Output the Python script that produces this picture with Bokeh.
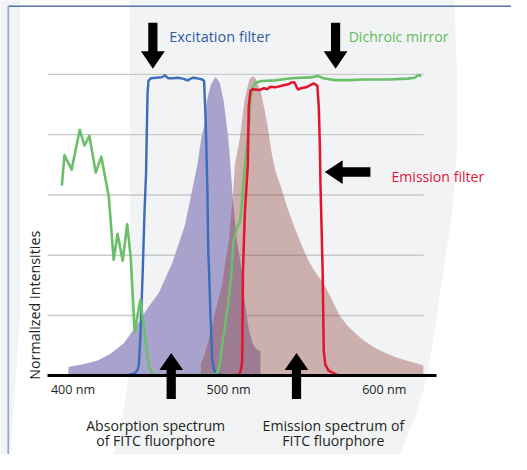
import math
from bokeh.plotting import figure
from bokeh.models import Range1d, LinearAxis, FixedTicker, Label
from bokeh.embed import file_html
from bokeh.resources import INLINE

# ---------------- data (wavelength in nm, normalized intensity) ----------------
abs_nm = [397.0, 397.0, 406.4, 415.7, 423.8, 432.5, 440.6, 448.1, 455.0, 463.7, 471.8, 476.1,
          479.9, 482.4, 484.2, 486.1, 488.6, 491.5, 494.2, 496.7, 499.8, 501.1, 502.9, 505.4,
          508.5, 510.4, 512.9, 515.4, 517.9, 520.4, 520.4]
abs_int = [0, 0.029, 0.038, 0.051, 0.072, 0.107, 0.165, 0.226, 0.274, 0.373, 0.498, 0.604,
           0.700, 0.787, 0.829, 0.915, 0.966, 0.991, 0.973, 0.915, 0.787, 0.700, 0.572, 0.444,
           0.348, 0.242, 0.155, 0.107, 0.088, 0.082, 0]

em_nm = [482.1, 482.1, 484.2, 487.4, 491.7, 495.8, 497.9, 500.0, 501.7, 503.1, 504.0, 507.1,
         510.2, 513.3, 515.4, 517.3, 520.6, 524.7, 527.9, 530.3, 533.0, 537.2, 541.6, 546.5,
         551.5, 555.9, 560.3, 565.2, 571.5, 576.5, 581.9, 587.7, 594.3, 601.4, 608.9, 616.3,
         623.2, 625.1, 625.1]
em_int = [0, 0.040, 0.066, 0.123, 0.220, 0.301, 0.380, 0.441, 0.540, 0.624, 0.700, 0.786,
          0.914, 0.983, 0.994, 0.986, 0.946, 0.839, 0.732, 0.675, 0.636, 0.566, 0.502, 0.438,
          0.380, 0.341, 0.313, 0.264, 0.198, 0.165, 0.139, 0.114, 0.091, 0.074, 0.059, 0.047,
          0.037, 0.033, 0]

exc_nm = [434.4, 437.5, 440.0, 441.6, 442.3, 443.3, 444.8, 445.9, 446.9, 447.6, 447.9, 448.5,
          450.0, 453.7, 457.3, 458.9, 461.2, 464.3, 467.4, 470.5, 473.6, 476.8, 479.9, 483.0,
          484.2, 485.3, 486.3, 486.9, 487.4, 488.4, 489.4, 490.2, 491.5, 493.6, 496.7]
exc_int = [0.002, 0.005, 0.010, 0.021, 0.037, 0.133, 0.348, 0.540, 0.668, 0.861, 0.941, 0.979,
           0.987, 0.989, 0.991, 0.997, 0.987, 0.987, 0.989, 0.986, 0.980, 0.989, 0.987, 0.983,
           0.979, 0.838, 0.627, 0.412, 0.348, 0.188, 0.059, 0.027, 0.011, 0.005, 0.002]

dic_nm = [392.8, 394.5, 399.1, 404.3, 407.4, 410.5, 414.6, 418.2, 423.0, 426.1, 428.6, 431.9,
          434.8, 437.1, 439.6, 443.3, 446.9, 448.9, 451.0, 454.3, 487.4, 491.1, 492.5, 494.2,
          496.7, 499.8, 501.9, 503.1, 505.4, 507.3, 508.5, 509.8, 511.7, 513.2, 514.1, 515.4,
          517.3, 521.6, 529.7, 540.3, 546.5, 552.8, 557.1, 560.9, 568.4, 577.7, 587.0, 602.6,
          615.1, 619.4, 621.9, 623.8]
dic_int = [0.631, 0.732, 0.684, 0.816, 0.764, 0.796, 0.674, 0.727, 0.594, 0.385, 0.471, 0.382,
           0.503, 0.390, 0.145, 0.252, 0.102, 0.027, 0.006, 0.002, 0.002, 0.003, 0.008, 0.038,
           0.134, 0.242, 0.348, 0.444, 0.492, 0.512, 0.572, 0.659, 0.764, 0.841, 0.925, 0.957,
           0.973, 0.978, 0.980, 0.987, 0.989, 0.990, 0.995, 0.987, 0.981, 0.981, 0.983, 0.983,
           0.986, 0.989, 0.998, 0.995]

emf_nm = [504.8, 507.1, 508.2, 508.7, 509.2, 510.4, 512.3, 512.9, 514.0, 515.4, 519.6, 522.7,
          524.7, 526.8, 529.9, 534.1, 538.3, 540.3, 542.2, 544.5, 546.5, 549.7, 552.8, 554.8,
          557.0, 557.9, 558.6, 559.0, 560.4, 561.1, 562.1, 564.2, 568.4, 570.2]
emf_int = [0, 0.006, 0.027, 0.050, 0.348, 0.540, 0.700, 0.893, 0.946, 0.951, 0.948, 0.954,
           0.951, 0.959, 0.957, 0.962, 0.967, 0.973, 0.974, 0.950, 0.954, 0.957, 0.965, 0.970,
           0.962, 0.893, 0.764, 0.635, 0.348, 0.082, 0.038, 0.017, 0.006, 0.003]

tick_nm = [400, 500, 600]
tick_labels = ["400 nm", "500 nm", "600 nm"]
grid_levels = [0.2, 0.4, 0.6, 0.8, 1.0]

# ---------------- layout ----------------
FONT = "Open Sans"
W, H = 511, 454
REF_W, REF_H = 527.0, 470.0       # design canvas that is scaled into the figure
PX_NM = 1.605                     # design pixels per nm
PX_U = 312.0                      # design pixels per intensity unit
X_AT0 = 400 - 74.8 / PX_NM        # nm at design x = 0
Y_AT0 = 388.5 / PX_U              # intensity at design y = 0
X0, X1 = X_AT0, X_AT0 + REF_W / PX_NM
Y1, Y0 = Y_AT0, Y_AT0 - REF_H / PX_U
S = W / REF_W                     # scale for fonts / line widths

def sx(px):
    return X_AT0 + px / PX_NM

def sy(py):
    return Y_AT0 - py / PX_U

def fs(v):
    return "%.1fpx" % (v * S)

p = figure(width=W, height=H, x_range=Range1d(X0, X1), y_range=Range1d(Y0, Y1),
           output_backend="svg", toolbar_location=None, x_axis_type=None, y_axis_type=None,
           min_border=0, outline_line_color=None,
           background_fill_color="#f2f3f4", border_fill_color="#f2f3f4")

# decorative white background bands
lb = [(20, 0), (133, 0), (134, 300), (132, 390), (126, 430), (116, 470), (10, 470), (15, 400), (20, 330)]
rb = [(468, 0), (471, 80), (471, 150), (466, 220), (458, 270), (448, 340), (440, 390), (428, 430),
      (412, 470), (527, 470), (527, 0)]
for poly in (lb, rb):
    p.patch([sx(a) for a, b in poly], [sy(b) for a, b in poly], fill_color="white", line_color=None)

# frame border lines
p.segment(x0=[sx(8)], y0=[sy(6)], x1=[sx(527)], y1=[sy(6)], line_color="#5475ab", line_width=1.6 * S)
p.segment(x0=[sx(8)], y0=[sy(6)], x1=[sx(8)], y1=[sy(470)], line_color="#93a6c8", line_width=1.8 * S)

# gridlines
p.segment(x0=[383.8] * len(grid_levels), y0=grid_levels, x1=[625.2] * len(grid_levels), y1=grid_levels,
          line_color="#c9c9c9", line_width=1.4 * S)

# spectra
p.patch(abs_nm, abs_int, fill_color="#a8a2cd", line_color=None)
p.patch(em_nm, em_int, fill_color=(136, 51, 41), fill_alpha=0.35, line_color=None)

# filters
p.line(exc_nm, exc_int, line_color="#3a6dbd", line_width=2.5 * S, line_join="round")
p.line(dic_nm, dic_int, line_color="#6cbf6a", line_width=2.7 * S, line_join="round")
p.line(emf_nm, emf_int, line_color="#e2142e", line_width=2.6 * S, line_join="round")

# arrows (sizes in design pixels)
def v_arrow(xc, y_end, y_tip, shaft_w=9.5, head_w=24.5, head_len=18.0):
    sw = shaft_w / 2 / PX_NM
    hw = head_w / 2 / PX_NM
    hl = head_len / PX_U * (1 if y_end > y_tip else -1)
    xs = [xc - sw, xc + sw, xc + sw, xc + hw, xc, xc - hw, xc - sw]
    ys = [y_end, y_end, y_tip + hl, y_tip + hl, y_tip, y_tip + hl, y_tip + hl]
    return xs, ys

def h_arrow(yc, x_tip, x_end, shaft_h=10.0, head_h=24.5, head_len=18.4):
    sh = shaft_h / 2 / PX_U
    hh = head_h / 2 / PX_U
    hl = head_len / PX_NM
    xs = [x_end, x_end, x_tip + hl, x_tip + hl, x_tip, x_tip + hl, x_tip + hl]
    ys = [yc + sh, yc - sh, yc - sh, yc - hh, yc, yc + hh, yc + sh]
    return xs, ys

arrows = [v_arrow(451.3, 1.171, 1.019), v_arrow(568.7, 1.171, 1.019),
          h_arrow(0.676, 561.8, 591.1),
          v_arrow(463.1, -0.0772, 0.0756, head_len=17.5), v_arrow(543.6, -0.0772, 0.0756, head_len=17.5)]
p.patches([a[0] for a in arrows], [a[1] for a in arrows], fill_color="black", line_color=None)

# x axis (baseline) at intensity 0
xax = LinearAxis(fixed_location=0, bounds=(383.8, 633.5), ticker=FixedTicker(ticks=tick_nm, minor_ticks=[]),
                 major_label_overrides={t: l for t, l in zip(tick_nm, tick_labels)},
                 axis_line_color="black", axis_line_width=3 * S, major_tick_line_color=None,
                 minor_tick_line_color=None, major_tick_out=0, major_tick_in=0,
                 major_label_standoff=5, major_label_text_font=FONT,
                 major_label_text_font_size=fs(13), major_label_text_color="#231f20")
p.add_layout(xax, "below")

# texts
def lab(x, y, text, color, size, align="left", angle=0.0, baseline="alphabetic"):
    p.add_layout(Label(x=x, y=y, text=text, text_color=color, text_font=FONT, text_font_size=fs(size),
                       text_align=align, text_baseline=baseline, angle=angle))

lab(461.8, 1.1247, "Excitation filter", "#2d5ca3", 15)
lab(577.1, 1.1247, "Dichroic mirror", "#62bb55", 14.5)
lab(604.6, 0.660, "Emission filter", "#e0173c", 14.5)
lab(sx(35), 0.234, "Normalized intensities", "#231f20", 14.7, "center", math.pi / 2, "middle")
lab(453.1, sy(440.0), "Absorption spectrum", "#231f20", 14.5, "center")
lab(453.1, sy(455.5), "of FITC fluorphore", "#231f20", 14.5, "center")
lab(567.3, sy(440.0), "Emission spectrum of", "#231f20", 14.5, "center")
lab(567.3, sy(455.5), "FITC fluorphore", "#231f20", 14.5, "center")

open("out.html", "w").write(file_html(p, INLINE))
